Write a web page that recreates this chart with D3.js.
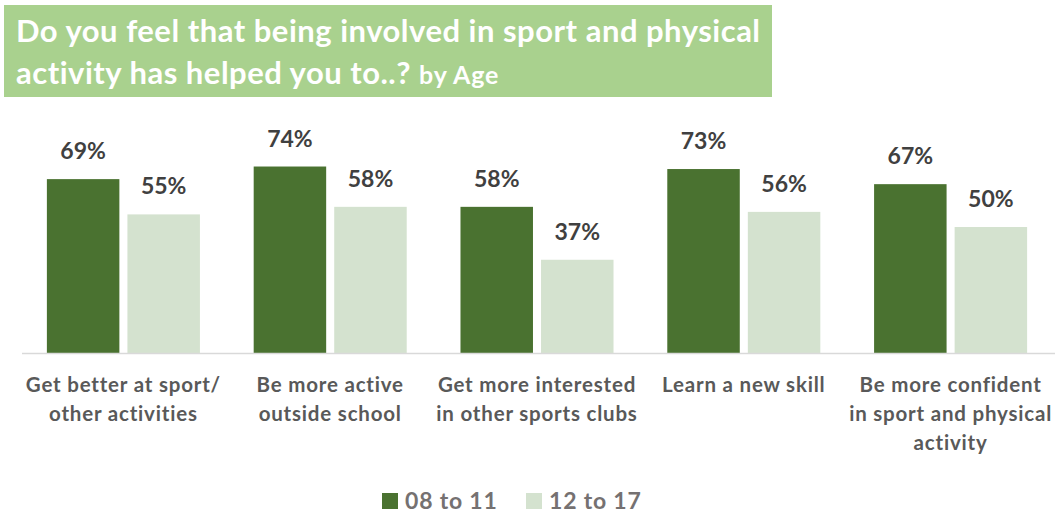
<!DOCTYPE html>
<html>
<head>
<meta charset="utf-8">
<script src="https://cdn.jsdelivr.net/npm/d3@7"></script>
<style>
  html, body { margin: 0; padding: 0; background: #ffffff; }
  svg { display: block; }
  text { font-family: Lato, "Open Sans", sans-serif; font-weight: bold; }
</style>
</head>
<body>
<svg id="chart" width="1057" height="513"></svg>
<script>
// Survey results by age group
const categories = [
  ["Get better at sport/", "other activities"],
  ["Be more active", "outside school"],
  ["Get more interested", "in other sports clubs"],
  ["Learn a new skill"],
  ["Be more confident", "in sport and physical", "activity"]
];
const seriesNames = ["08 to 11", "12 to 17"];
const values0811 = [69, 74, 58, 73, 67];
const values1217 = [55, 58, 37, 56, 50];

const colors = ["#4a7230", "#d4e2cf"];
const svg = d3.select("#chart");

// Title banner
svg.append("rect")
  .attr("x", 4).attr("y", 5).attr("width", 768).attr("height", 92)
  .attr("fill", "#a9d18e");
const title = svg.append("text").attr("fill", "#ffffff");
title.append("tspan").attr("x", 16).attr("y", 42).attr("font-size", 31)
  .attr("letter-spacing", 0.5)
  .text("Do you feel that being involved in sport and physical");
const t2 = title.append("tspan").attr("x", 16).attr("y", 84);
t2.append("tspan").attr("font-size", 31).attr("letter-spacing", 0.5)
  .text("activity has helped you to..? ");
t2.append("tspan").attr("font-size", 25).attr("letter-spacing", 0.8).text("by Age");

// Scales
const baseY = 353;
const x0 = d3.scaleBand().domain(d3.range(categories.length)).range([20, 1054]).paddingInner(0.26).paddingOuter(0.13);
const x1 = d3.scaleBand().domain([0, 1]).range([0, x0.bandwidth()]).paddingInner(0.1);
const y = d3.scaleLinear().domain([0, 100]).range([baseY, baseY - 252]);

const data = categories.map((c, i) => ({ i, vals: [values0811[i], values1217[i]] }));

const groups = svg.append("g").selectAll("g").data(data).join("g")
  .attr("transform", d => `translate(${x0(d.i)},0)`);

groups.selectAll("rect").data(d => d.vals.map((v, s) => ({ v, s }))).join("rect")
  .attr("x", d => x1(d.s))
  .attr("width", x1.bandwidth())
  .attr("y", d => y(d.v))
  .attr("height", d => baseY - y(d.v))
  .attr("fill", d => colors[d.s]);

groups.selectAll("text.val").data(d => d.vals.map((v, s) => ({ v, s }))).join("text")
  .attr("class", "val")
  .attr("x", d => x1(d.s) + x1.bandwidth() / 2)
  .attr("y", d => y(d.v) - 20)
  .attr("text-anchor", "middle")
  .attr("font-size", 23)
  .attr("fill", "#404040")
  .text(d => d.v + "%");

// Baseline axis
svg.append("g")
  .attr("transform", `translate(0,${baseY})`)
  .call(d3.axisBottom(x0).tickSize(0).tickFormat(""))
  .call(g => g.select(".domain").attr("stroke", "#d9d9d9").attr("stroke-width", 1.3)
    .attr("d", "M22,0.5H1055"));

// Category labels
const catLabels = svg.append("g").selectAll("text").data(data).join("text")
  .attr("text-anchor", "middle")
  .attr("font-size", 20.5)
  .attr("letter-spacing", 0.8)
  .attr("fill", "#595959");
catLabels.each(function (d) {
  const cx = x0(d.i) + x0.bandwidth() / 2;
  d3.select(this).selectAll("tspan").data(categories[d.i]).join("tspan")
    .attr("x", cx)
    .attr("y", (l, k) => 392 + k * 29)
    .text(l => l);
});

// Legend
const legend = svg.append("g");
const legX = [382, 526];
seriesNames.forEach((name, s) => {
  legend.append("rect").attr("x", legX[s]).attr("y", 493).attr("width", 16).attr("height", 16).attr("fill", colors[s]);
  legend.append("text").attr("x", legX[s] + 23).attr("y", 509)
    .attr("font-size", 23).attr("letter-spacing", 0.8)
    .attr("fill", "#757171").text(name);
});
</script>
</body>
</html>
